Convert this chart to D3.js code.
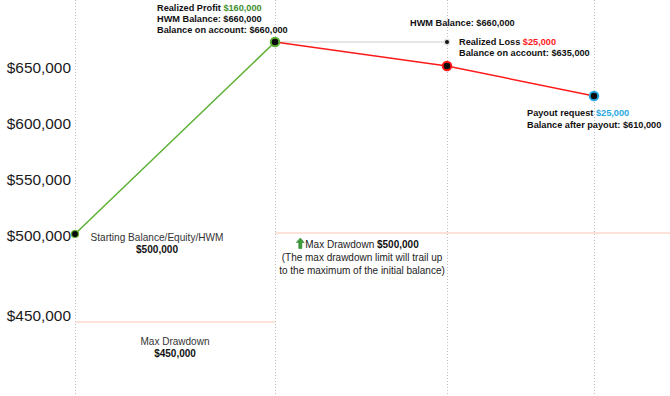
<!DOCTYPE html>
<html lang="en">
<head>
  <meta charset="UTF-8">
  <title>Trailing Max Drawdown</title>
  <script src="https://cdn.jsdelivr.net/npm/d3@7.8.5/dist/d3.min.js"></script>
  <style>
    html, body { margin: 0; padding: 0; background: #fff; }
    svg { display: block; font-family: "Liberation Sans", Arial, sans-serif; }
  </style>
</head>
<body>
  <svg id="chart"></svg>
  <script>
    // chart data
    const steps = ["Start", "Profit", "Loss", "Payout"];
    const balance = [500000, 660000, 635000, 610000];
    const hwmSteps = [1, 2];
    const hwmValue = 660000;
    const ddOld = 450000;          // max drawdown before the profit
    const ddNew = 500000;          // trailed max drawdown
    const yTicks = [450000, 500000, 550000, 600000, 650000];

    const width = 670, height = 396;
    const svg = d3.select("#chart").attr("width", width).attr("height", height);

    const fmt = d3.format("$,.0f");
    const green = "#5cb034", red = "#ff1a1a", blue = "#2aa8e2";

    // step positions are uneven in the original
    const x = d3.scaleLinear().domain([0, 1, 2, 3]).range([75, 275, 447, 594]);
    // data scale (the drawing is not to scale, so piecewise)
    const y = d3.scaleLinear()
      .domain([450000, 500000, 610000, 635000, 660000])
      .range([322, 234, 96, 66, 42]);
    // the axis labels sit on their own spacing
    const yAxis = d3.scaleLinear()
      .domain([450000, 500000, 650000])
      .range([316, 236, 68]);

    // vertical dotted grid
    svg.append("g")
      .selectAll("line")
      .data(steps)
      .enter()
      .append("line")
      .attr("x1", (d, i) => x(i) + 0.5)
      .attr("x2", (d, i) => x(i) + 0.5)
      .attr("y1", 0)
      .attr("y2", height)
      .attr("stroke", "#bdbdbd")
      .attr("stroke-dasharray", "1,2");

    // y labels
    svg.append("g")
      .selectAll("text")
      .data(yTicks)
      .enter()
      .append("text")
      .attr("x", 71)
      .attr("y", d => yAxis(d))
      .attr("dy", "0.35em")
      .attr("text-anchor", "end")
      .attr("font-size", 15.4)
      .attr("fill", "#1a1a1a")
      .text(d => fmt(d));

    // drawdown limits
    svg.append("line")
      .attr("x1", x(0)).attr("x2", x(1))
      .attr("y1", y(ddOld)).attr("y2", y(ddOld))
      .attr("stroke", "#fbd9cc").attr("stroke-width", 1.5);
    svg.append("line")
      .attr("x1", x(1)).attr("x2", width)
      .attr("y1", y(ddNew) - 1).attr("y2", y(ddNew) - 1)
      .attr("stroke", "#fbd9cc").attr("stroke-width", 1.5);

    // HWM level
    svg.append("line")
      .attr("x1", x(hwmSteps[0])).attr("x2", x(hwmSteps[1]))
      .attr("y1", y(hwmValue)).attr("y2", y(hwmValue))
      .attr("stroke", "#dcdcdc").attr("stroke-width", 1.5);

    // balance line, green up then red down
    const line = d3.line().x((d, i) => x(d.i)).y(d => y(d.v));
    const pts = balance.map((v, i) => ({ i, v }));
    svg.append("path")
      .attr("d", line(pts.slice(0, 2)))
      .attr("fill", "none").attr("stroke", green).attr("stroke-width", 1.5);
    svg.append("path")
      .attr("d", line(pts.slice(1)))
      .attr("fill", "none").attr("stroke", red).attr("stroke-width", 1.5);

    // markers
    const ring = [green, green, red, blue];
    svg.append("g")
      .selectAll("circle")
      .data(pts)
      .enter()
      .append("circle")
      .attr("cx", d => x(d.i))
      .attr("cy", d => y(d.v))
      .attr("r", (d, i) => i === 0 ? 3.5 : 4.3)
      .attr("fill", "#0a0a0a")
      .attr("stroke", (d, i) => ring[i])
      .attr("stroke-width", (d, i) => i === 0 ? 1.2 : 2);
    svg.append("circle")
      .attr("cx", x(hwmSteps[1])).attr("cy", y(hwmValue))
      .attr("r", 2.6).attr("fill", "#111")
      .attr("stroke", "#e0e0e0").attr("stroke-width", 1.2);

    // annotation helper: lines of [text, color] parts
    function note(px, py, rows, opts) {
      const t = svg.append("text")
        .attr("x", px).attr("y", py)
        .attr("font-size", opts.size)
        .attr("font-weight", opts.weight || "bold")
        .attr("fill", opts.fill || "#111")
        .attr("text-anchor", opts.anchor || "start");
      rows.forEach((row, r) => {
        row.forEach((part, k) => {
          const s = t.append("tspan").text(part.t);
          if (k === 0) s.attr("x", px).attr("dy", r === 0 ? 0 : opts.lh);
          if (part.c) s.attr("fill", part.c);
          if (part.w) s.attr("font-weight", part.w);
        });
      });
      return t;
    }

    note(x(1) - 118, y(balance[1]) - 31, [
      [{ t: "Realized Profit " }, { t: fmt(balance[1] - balance[0]), c: "#3f8f2f" }],
      [{ t: "HWM Balance: " + fmt(hwmValue) }],
      [{ t: "Balance on account: " + fmt(balance[1]) }]
    ], { size: 9.2, lh: 11 });

    note(x(2) - 37, y(hwmValue) - 16, [
      [{ t: "HWM Balance: " + fmt(hwmValue) }]
    ], { size: 9.2, lh: 11 });

    note(x(2) + 12, y(hwmValue) + 3, [
      [{ t: "Realized Loss " }, { t: fmt(balance[1] - balance[2]), c: red }],
      [{ t: "Balance on account: " + fmt(balance[2]) }]
    ], { size: 9.2, lh: 11 });

    note(x(3) - 67, y(balance[3]) + 19.5, [
      [{ t: "Payout request " }, { t: fmt(balance[2] - balance[3]), c: blue }],
      [{ t: "Balance after payout: " + fmt(balance[3]) }]
    ], { size: 9.2, lh: 12 });

    note(x(0) + 82, y(balance[0]) + 7, [
      [{ t: "Starting Balance/Equity/HWM" }],
      [{ t: fmt(balance[0]), w: "bold", c: "#111" }]
    ], { size: 10.1, lh: 12, weight: "normal", fill: "#333", anchor: "middle" });

    note((x(0) + x(1)) / 2, y(ddOld) + 23, [
      [{ t: "Max Drawdown" }],
      [{ t: fmt(ddOld), w: "bold", c: "#111" }]
    ], { size: 10, lh: 12, weight: "normal", fill: "#333", anchor: "middle" });

    const mid = x(1) + 87;
    const midNote = note(mid, y(ddNew) + 14, [
      [{ t: "Max Drawdown " }, { t: fmt(ddNew), w: "bold", c: "#111" }],
      [{ t: "(The max drawdown limit will trail up" }],
      [{ t: "to the maximum of the initial balance)" }]
    ], { size: 10, lh: 13, weight: "normal", fill: "#222", anchor: "middle" });

    // green up arrow before the first row
    const firstRow = midNote.node().getSubStringLength(0, ("Max Drawdown " + fmt(ddNew)).length);
    const ax = mid - firstRow / 2 - 5, ay = y(ddNew) + 14;
    svg.append("path")
      .attr("d", d3.line()([[ax, ay - 10], [ax + 4, ay - 5.5], [ax + 1.6, ay - 5.5], [ax + 1.6, ay + 0.5],
        [ax - 1.6, ay + 0.5], [ax - 1.6, ay - 5.5], [ax - 4, ay - 5.5]]) + "Z")
      .attr("fill", "#3c9d3a")
      .attr("stroke", "#2a7a28")
      .attr("stroke-width", 0.5);
  </script>
</body>
</html>
